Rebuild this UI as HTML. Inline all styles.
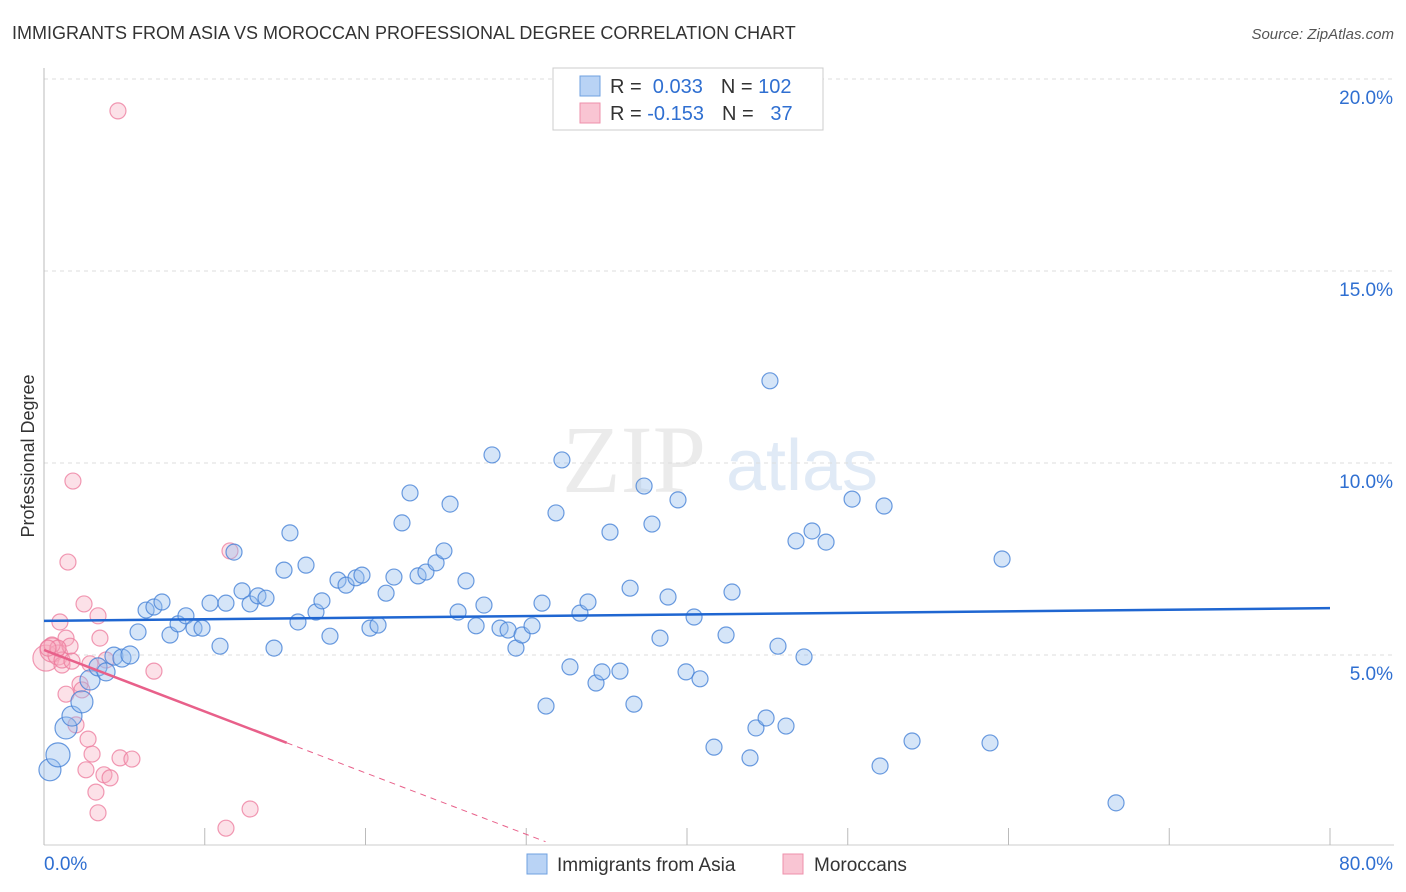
<!DOCTYPE html>
<html><head><meta charset="utf-8"><style>
body{margin:0;background:#fff;font-family:"Liberation Sans",sans-serif;}
#wrap{position:relative;width:1406px;height:892px;overflow:hidden;}
</style></head><body>
<div id="wrap">
<svg id="svg" width="1406" height="892" xmlns="http://www.w3.org/2000/svg">
<text x="12" y="39" font-size="18" fill="#333">IMMIGRANTS FROM ASIA VS MOROCCAN PROFESSIONAL DEGREE CORRELATION CHART</text>
<text x="1394" y="39" font-size="15" fill="#555" text-anchor="end" font-style="italic">Source: ZipAtlas.com</text>
<text x="34" y="456" font-size="18" fill="#333" text-anchor="middle" transform="rotate(-90 34 456)">Professional Degree</text>
<g opacity="0.35">
<text x="634" y="492" font-size="96" fill="#c8c8c8" text-anchor="middle" font-family="Liberation Serif,serif">ZIP</text>
<text x="802" y="490" font-size="72" fill="#a9c4e6" text-anchor="middle">atlas</text>
</g>
<g id="grid"></g><g id="axes"></g><g id="pts"></g><g id="lines"></g>
<g>
<rect x="553" y="68" width="270" height="62" fill="#fff" stroke="#ccc"/>
<rect x="580" y="76" width="20" height="20" fill="#b9d3f5" stroke="#6fa0e0"/>
<rect x="580" y="103" width="20" height="20" fill="#f9c5d3" stroke="#ee90ab"/>
<text x="610" y="93" font-size="20" fill="#333">R = <tspan fill="#2f6fd1">&#160;0.033</tspan><tspan dx="18">N = </tspan><tspan fill="#2f6fd1">102</tspan></text>
<text x="610" y="120" font-size="20" fill="#333">R = <tspan fill="#2f6fd1">-0.153</tspan><tspan dx="18">N = </tspan><tspan fill="#2f6fd1">&#160;&#160;37</tspan></text>
</g>
<g>
<rect x="527" y="854" width="20" height="20" fill="#b9d3f5" stroke="#6fa0e0"/>
<text x="557" y="871" font-size="19" fill="#333">Immigrants from Asia</text>
<rect x="783" y="854" width="20" height="20" fill="#f9c5d3" stroke="#ee90ab"/>
<text x="814" y="871" font-size="19" fill="#333">Moroccans</text>
</g>
</svg>
</div>
<script>
const xTicks=[0,10,20,30,40,50,60,70,80];
const yTicks=[5,10,15,20];
const xLabels=["0.0%","80.0%"];
const blueX=[0.37,0.87,1.37,1.74,2.36,2.86,3.36,3.86,4.35,4.85,5.35,5.85,6.35,6.84,7.34,7.84,8.34,8.83,9.33,9.83,10.33,10.95,11.32,11.82,12.32,12.82,13.31,13.81,14.31,14.93,15.30,15.80,16.30,16.92,17.29,17.79,18.29,18.79,19.41,19.78,20.28,20.78,21.28,21.77,22.27,22.77,23.27,23.76,24.39,24.88,25.26,25.76,26.25,26.88,27.37,27.87,28.37,28.87,29.36,29.74,30.36,30.98,31.23,31.85,32.22,32.72,33.34,33.84,34.34,34.71,35.21,35.83,36.46,36.70,37.33,37.82,38.32,38.82,39.44,39.94,40.44,40.81,41.68,42.43,42.80,43.92,44.29,44.92,45.16,45.66,46.16,46.78,47.28,47.78,48.65,50.27,52.01,52.26,54.00,58.85,59.60,66.69];
const blueY=[2.01,2.40,3.10,3.41,3.78,4.35,4.69,4.56,4.97,4.92,5.00,5.60,6.17,6.25,6.38,5.52,5.81,6.02,5.70,5.70,6.35,5.23,6.35,7.68,6.67,6.33,6.54,6.48,5.18,7.21,8.18,5.86,7.34,6.12,6.41,5.49,6.95,6.82,7.01,7.08,5.70,5.78,6.61,7.03,8.44,9.22,7.06,7.16,7.40,7.71,8.93,6.12,6.93,5.76,6.30,10.21,5.70,5.65,5.18,5.52,5.76,6.35,3.67,8.70,10.08,4.69,6.09,6.38,4.27,4.56,8.20,4.58,6.74,3.72,9.40,8.41,5.44,6.51,9.04,4.56,5.99,4.38,2.60,5.52,6.64,2.32,3.10,3.36,12.14,5.23,3.15,7.97,4.95,8.23,7.94,9.06,2.11,8.88,2.76,2.71,7.50,1.15];
const blueSize=[11,12,11,10,11,10,9,9,9,9,9];
const pinkX=[0.12,0.50,0.87,0.99,1.12,1.37,1.49,1.62,1.37,1.80,1.99,2.24,2.36,2.49,2.61,2.74,2.86,2.99,3.23,3.36,3.48,3.36,3.73,3.86,4.11,4.73,5.47,6.84,4.60,11.32,11.57,12.82,1.12,0.50,1.74,0.87,0.25];
const pinkY=[4.92,5.13,5.00,5.86,4.74,5.44,7.42,5.23,3.98,9.53,3.18,4.24,4.09,6.33,2.01,2.81,4.77,2.42,1.43,6.02,5.44,0.89,1.88,4.87,1.80,2.32,2.29,4.58,19.17,0.49,7.71,0.99,4.87,5.26,4.84,5.18,5.18];
const pinkSize=[13,12,10];
const blueTrend=[5.89,6.22];      // y at x=0 and x=80
const pinkTrend=[5.13,-0.16,15.1,31.2]; // intercept, slope, solid end, dashed end

const X=v=>44+v/80*1286, Y=v=>847-v*38.4;
const NS="http://www.w3.org/2000/svg";
function mk(tag,parent,attrs){const e=document.createElementNS(NS,tag);for(const k in attrs)e.setAttribute(k,attrs[k]);document.getElementById(parent).appendChild(e);return e;}
yTicks.forEach(t=>{
 const l=mk('line','grid',{x1:44,x2:1394,y1:Y(t),y2:Y(t),stroke:'#ddd','stroke-dasharray':'4,4'});
 
 
 const tx=mk('text','grid',{x:1393,y:Y(t)+25,'font-size':19,fill:'#2f6fd1','text-anchor':'end'});
 tx.textContent=t.toFixed(1)+'%';
 
 
});
const ax=mk('line','axes',{x1:44,x2:44,y1:68,y2:845,stroke:'#bbb'});


const bx=mk('line','axes',{x1:44,x2:1394,y1:845,y2:845,stroke:'#ccc'});


xTicks.forEach(t=>{
 const l=mk('line','axes',{x1:X(t),x2:X(t),y1:828,y2:845,stroke:'#bbb'});
 
 
});
const xl0=mk('text','axes',{x:44,y:870,'font-size':19,fill:'#2f6fd1'});
xl0.textContent=xLabels[0];


const xl1=mk('text','axes',{x:1393,y:870,'font-size':19,fill:'#2f6fd1','text-anchor':'end'});
xl1.textContent=xLabels[1];


pinkX.forEach((v,i)=>{
 const c=mk('circle','pts',{cx:X(v),cy:Y(pinkY[i]),r:pinkSize[i]||8,fill:'rgba(246,168,190,0.35)',stroke:'rgba(236,120,155,0.75)','stroke-width':1.2});
 
 
});
blueX.forEach((v,i)=>{
 const c=mk('circle','pts',{cx:X(v),cy:Y(blueY[i]),r:blueSize[i]||8,fill:'rgba(150,190,238,0.4)',stroke:'rgba(70,130,215,0.8)','stroke-width':1.2});
 
 
});
const bl=mk('line','lines',{x1:X(0),y1:Y(blueTrend[0]),x2:X(80),y2:Y(blueTrend[1]),stroke:'#1f66d1','stroke-width':2.5});


const pf=x=>pinkTrend[0]+pinkTrend[1]*x;
const pl=mk('line','lines',{x1:X(0),y1:Y(pf(0)),x2:X(pinkTrend[2]),y2:Y(pf(pinkTrend[2])),stroke:'#e8608a','stroke-width':2.5});


const pd=mk('line','lines',{x1:X(pinkTrend[2]),y1:Y(pf(pinkTrend[2])),x2:X(pinkTrend[3]),y2:Y(pf(pinkTrend[3])),stroke:'#e8608a','stroke-width':1,'stroke-dasharray':'6,5'});


</script>
</body></html>
